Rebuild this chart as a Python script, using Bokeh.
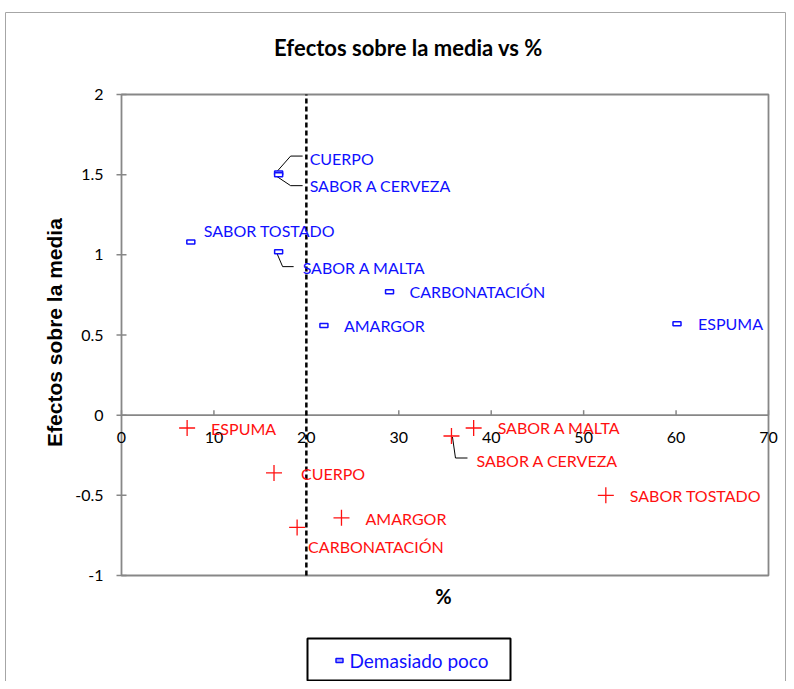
import math
from bokeh.plotting import figure
from bokeh.models import Range1d, Label, LabelSet, ColumnDataSource
from bokeh.core.properties import value
from bokeh.embed import file_html
from bokeh.resources import INLINE

# ---------------- data ----------------
categories = ["ESPUMA", "CUERPO", "AMARGOR", "CARBONATACIÓN",
              "SABOR A MALTA", "SABOR A CERVEZA", "SABOR TOSTADO"]
poco_x = [60.1, 17.0, 21.9, 29.0, 17.0, 17.0, 7.5]
poco_y = [0.57, 1.51, 0.56, 0.77, 1.02, 1.50, 1.08]
mucho_x = [7.1, 16.5, 23.8, 19.0, 38.1, 35.7, 52.4]
mucho_y = [-0.08, -0.36, -0.64, -0.70, -0.08, -0.13, -0.50]
x_ticks = [0, 10, 20, 30, 40, 50, 60, 70]
y_ticks = [-1, -0.5, 0, 0.5, 1, 1.5, 2]
y_tick_labels = ["-1", "-0.5", "0", "0.5", "1", "1.5", "2"]
threshold = 20
title_text = "Efectos sobre la media vs %"
x_title = "%"
y_title = "Efectos sobre la media"
legend_label = "Demasiado poco"

# ---------------- layout / style ----------------
FONT = "Lato"
BLUE = "#1010FF"
RED = "#FF1010"
GRAY = "#878787"
W, H = 786, 681
# plot-area placement in pixels
PL, PR, PT, PB = 121, 768, 94, 575
XMIN, XMAX = x_ticks[0], x_ticks[-1]
YMIN, YMAX = y_ticks[0], y_ticks[-1]
kx = (XMAX - XMIN) / (PR - PL)
ky = (YMAX - YMIN) / (PB - PT)


def x_of(px):
    return XMIN + (px - PL) * kx


def y_of(py):
    return YMAX - (py - PT) * ky


# label offsets in screen px (dx right, dy down)
poco_off = [(21, 0), (31, -15), (20, 0), (20, 0), (24, 16), (31, 11), (13, -12)]
mucho_off = [(24, 1), (27, 1), (24, 1), (11, 19), (24, 0), (25, 24), (24, 0)]
# leader lines: (series, index, list of px offsets)
leaders = [("poco", 1, [(-3, 0), (12, -17), (24, -17)]),
           ("poco", 5, [(-3, 1), (12, 11), (24, 11)]),
           ("poco", 4, [(-2, 1), (4, 15), (15, 15)]),
           ("mucho", 5, [(1, 1), (4, 22), (16, 22)])]

p = figure(width=W, height=H, output_backend="svg", toolbar_location=None,
           x_range=Range1d(x_of(0), x_of(W)), y_range=Range1d(y_of(H), y_of(0)),
           x_axis_location=None, y_axis_location=None, min_border=0)
p.xgrid.visible = False
p.ygrid.visible = False
p.outline_line_color = None

# outer chart border
p.quad(left=x_of(5), right=x_of(W - 1), top=y_of(12), bottom=y_of(H + 10),
       fill_color=None, line_color="#a6a6a6", line_width=1)

# plot area box
p.quad(left=XMIN, right=XMAX, bottom=YMIN, top=YMAX, fill_color=None,
       line_color=GRAY, line_width=1.8)

# y ticks (crossing)
for ang in (0, math.pi):
    p.ray(x=[XMIN] * len(y_ticks), y=y_ticks, length=5, length_units="screen",
          angle=ang, line_color=GRAY, line_width=1.5)
yt_src = ColumnDataSource(dict(x=[XMIN] * len(y_ticks), y=y_ticks, t=y_tick_labels))
p.add_layout(LabelSet(x="x", y="y", text="t", source=yt_src, x_offset=-18,
                      text_align="right", text_baseline="middle",
                      text_font=value(FONT), text_font_size="16px", text_color="black"))

# x axis at y = 0
p.segment(x0=[XMIN], y0=[0], x1=[XMAX], y1=[0], line_color=GRAY, line_width=1.8)
p.ray(x=x_ticks, y=[0] * len(x_ticks), length=5, length_units="screen",
      angle=math.pi / 2, line_color=GRAY, line_width=1.5)
xt_src = ColumnDataSource(dict(x=x_ticks, y=[0] * len(x_ticks), t=[str(v) for v in x_ticks]))
p.add_layout(LabelSet(x="x", y="y", text="t", source=xt_src, y_offset=-22,
                      text_align="center", text_baseline="middle",
                      text_font=value(FONT), text_font_size="16px", text_color="black"))

# threshold line
p.segment(x0=[threshold], y0=[YMIN], x1=[threshold], y1=[YMAX], line_color="black",
          line_width=2.5, line_dash="5 3")

# series
src_p = ColumnDataSource(dict(x=poco_x, y=poco_y, name=categories,
                              dx=[o[0] for o in poco_off], dy=[-o[1] for o in poco_off]))
src_m = ColumnDataSource(dict(x=mucho_x, y=mucho_y, name=categories,
                              dx=[o[0] for o in mucho_off], dy=[-o[1] for o in mucho_off]))

# leader lines
xs, ys = [], []
for ser, i, pts in leaders:
    bx = poco_x[i] if ser == "poco" else mucho_x[i]
    by = poco_y[i] if ser == "poco" else mucho_y[i]
    xs.append([bx + dx * kx for dx, dy in pts])
    ys.append([by - dy * ky for dx, dy in pts])
p.multi_line(xs, ys, line_color="black", line_width=1)

r_poco = p.rect(x="x", y="y", width=8, height=4, width_units="screen", height_units="screen",
                source=src_p, fill_color="white", line_color=BLUE, line_width=1.5)
r_mucho = p.scatter(x="x", y="y", source=src_m, marker="cross", size=16,
                    line_color=RED, line_width=1.3)

p.add_layout(LabelSet(x="x", y="y", text="name", source=src_p, x_offset="dx", y_offset="dy",
                      text_align="left", text_baseline="middle", text_font=value(FONT),
                      text_font_size="16px", text_color=BLUE))
p.add_layout(LabelSet(x="x", y="y", text="name", source=src_m, x_offset="dx", y_offset="dy",
                      text_align="left", text_baseline="middle", text_font=value(FONT),
                      text_font_size="16px", text_color=RED))

# titles
p.add_layout(Label(x=x_of(408), y=y_of(47), text=title_text, text_align="center",
                   text_baseline="middle", text_font=FONT, text_font_size="22px",
                   text_font_style="bold", text_color="black"))
p.add_layout(Label(x=x_of(443), y=y_of(595), text=x_title, text_align="center",
                   text_baseline="middle", text_font=FONT, text_font_size="20px",
                   text_font_style="bold", text_color="black"))
p.add_layout(Label(x=x_of(54), y=y_of(332), text=y_title, angle=math.pi / 2,
                   text_align="center", text_baseline="middle",
                   text_font="Liberation Sans", text_font_size="21px",
                   text_font_style="bold", text_color="black"))

# legend (drawn as box + sample marker + text)
p.quad(left=x_of(307), right=x_of(510), top=y_of(638), bottom=y_of(680),
       fill_color="white", line_color="black", line_width=2)
p.rect(x=[x_of(339)], y=[y_of(660)], width=7, height=4, width_units="screen",
       height_units="screen", fill_color=BLUE, fill_alpha=0.35, line_color=BLUE,
       line_width=1.5)
p.add_layout(Label(x=x_of(349), y=y_of(660), text=legend_label, text_align="left",
                   text_baseline="middle", text_font=FONT, text_font_size="19px",
                   text_color=BLUE))

open("out.html", "w").write(file_html(p, INLINE))
